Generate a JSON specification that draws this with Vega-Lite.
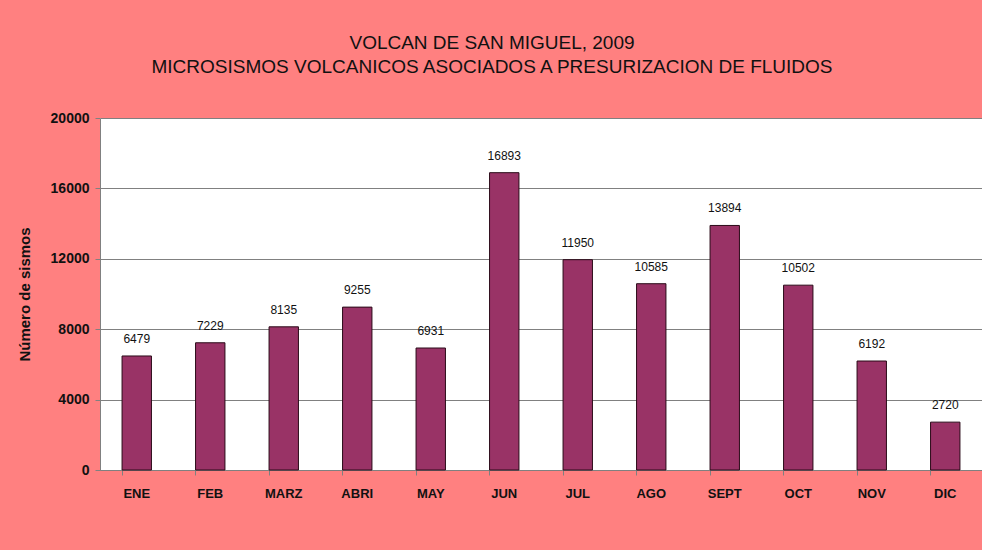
{
  "$schema": "https://vega.github.io/schema/vega-lite/v6.json",
  "width": 882,
  "height": 352,
  "autosize": "none",
  "padding": {"left": 100, "top": 118, "right": 0, "bottom": 80},
  "background": "#FF8080",
  "title": {
    "text": ["VOLCAN DE SAN MIGUEL, 2009", "MICROSISMOS VOLCANICOS ASOCIADOS A PRESURIZACION DE FLUIDOS"],
    "font": "Liberation Sans",
    "fontSize": 19,
    "fontWeight": "normal",
    "color": "#111111",
    "lineHeight": 24,
    "anchor": "middle",
    "dx": -49,
    "offset": 34
  },
  "config": {
    "view": {"fill": "white", "stroke": null},
    "font": "Liberation Sans"
  },
  "data": {
    "values": [
      {"mes": "ENE", "n": 6479},
      {"mes": "FEB", "n": 7229},
      {"mes": "MARZ", "n": 8135},
      {"mes": "ABRI", "n": 9255},
      {"mes": "MAY", "n": 6931},
      {"mes": "JUN", "n": 16893},
      {"mes": "JUL", "n": 11950},
      {"mes": "AGO", "n": 10585},
      {"mes": "SEPT", "n": 13894},
      {"mes": "OCT", "n": 10502},
      {"mes": "NOV", "n": 6192},
      {"mes": "DIC", "n": 2720}
    ]
  },
  "encoding": {
    "x": {
      "field": "mes", "type": "nominal", "sort": null,
      "scale": {"paddingInner": 0.6, "paddingOuter": 0.3},
      "axis": {
        "title": null, "labelAngle": 0, "labelFont": "Liberation Sans", "labelFontWeight": "bold",
        "labelFontSize": 13, "labelColor": "#111111", "labelPadding": 12,
        "domainColor": "#808080", "tickColor": "#808080", "tickSize": 5, "bandPosition": 0
      }
    },
    "y": {
      "field": "n", "type": "quantitative",
      "scale": {"domain": [0, 20000]},
      "axis": {
        "title": "Número de sismos", "titleFont": "Liberation Sans", "titleFontSize": 15,
        "titleFontWeight": "bold", "titleColor": "#111111", "titlePadding": 18,
        "values": [0, 4000, 8000, 12000, 16000, 20000], "format": "d",
        "labelFont": "Liberation Sans", "labelFontWeight": "bold", "labelFontSize": 14,
        "labelColor": "#111111", "labelPadding": 6,
        "gridColor": "#808080", "gridOpacity": 1,
        "domainColor": "#808080", "tickColor": "#808080", "tickSize": 5
      }
    }
  },
  "layer": [
    {
      "mark": {"type": "bar", "color": "#993366", "stroke": "#2a0a18", "strokeWidth": 1}
    },
    {
      "mark": {"type": "text", "baseline": "bottom", "dy": -10, "fontSize": 12, "font": "Liberation Sans", "color": "#111111"},
      "encoding": {"text": {"field": "n", "type": "quantitative", "format": "d"}}
    }
  ]
}
